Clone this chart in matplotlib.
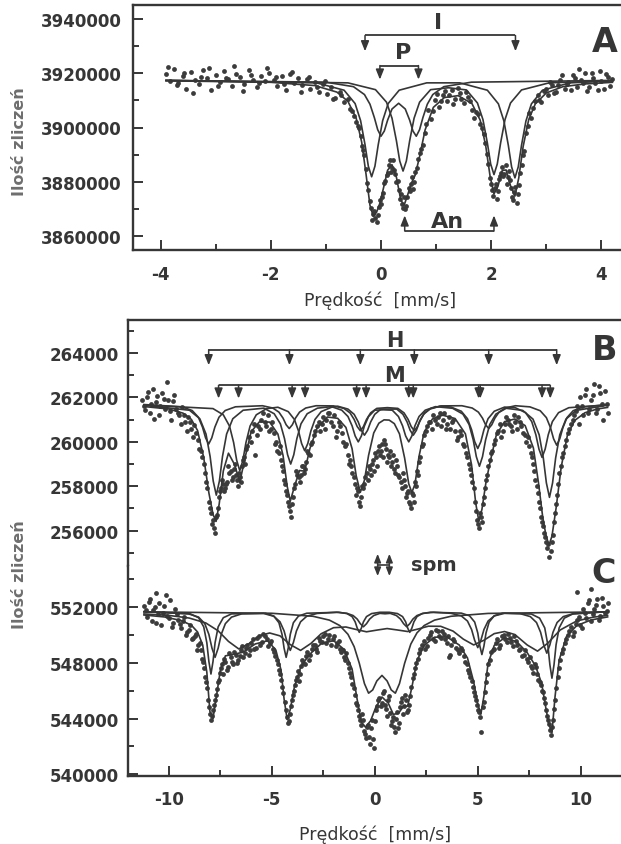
import matplotlib
matplotlib.use("Agg")
import matplotlib.pyplot as plt
from matplotlib.ticker import MultipleLocator, FormatStrFormatter

plt.rcParams["font.family"] = ["DejaVu Sans"]
plt.rcParams["axes.unicode_minus"] = False

INK = "#363636"
DOT = "#3c3c3c"
LABEL_GREY = "#6e6e6e"

# ---------------- panel A : measured points ----------------
a_vel = [
    -3.90, -3.83, -3.75, -3.68, -3.60, -3.53, -3.45, -3.38, -3.30, -3.23,
    -3.15, -3.08, -3.00, -2.93, -2.85, -2.78, -2.70, -2.63, -2.55, -2.48,
    -2.40, -2.33, -2.25, -2.18, -2.10, -2.03, -1.95, -1.88, -1.80, -1.73,
    -1.65, -1.58, -1.50, -1.43, -1.35, -1.28, -1.20, -1.13, -1.05, -0.98,
    -0.90, -0.83, -0.75, -0.68, -0.60, -0.53, -0.45, -0.40, -0.35, -0.30,
    -0.25, -0.20, -0.16, -0.12, -0.08, -0.04, 0.00, 0.04, 0.08, 0.12,
    0.16, 0.20, 0.24, 0.28, 0.32, 0.36, 0.40, 0.44, 0.48, 0.52,
    0.56, 0.60, 0.65, 0.70, 0.76, 0.82, 0.90, 0.98, 1.05, 1.13,
    1.20, 1.28, 1.35, 1.43, 1.50, 1.58, 1.65, 1.72, 1.80, 1.86,
    1.92, 1.98, 2.02, 2.06, 2.10, 2.14, 2.18, 2.22, 2.26, 2.30,
    2.34, 2.38, 2.42, 2.46, 2.50, 2.55, 2.60, 2.66, 2.72, 2.80,
    2.87, 2.95, 3.03, 3.10, 3.18, 3.25, 3.33, 3.40, 3.48, 3.55,
    3.63, 3.70, 3.78, 3.85, 3.93, 4.00, 4.08, 4.15, 4.20,
    # second sweep
    -3.86, -3.71, -3.57, -3.42, -3.27, -3.12, -2.96, -2.81, -2.66, -2.51,
    -2.36, -2.21, -2.06, -1.91, -1.76, -1.61, -1.46, -1.31, -1.16, -1.01,
    -0.87, -0.72, -0.57, -0.49, -0.42, -0.37, -0.32, -0.28, -0.23, -0.18,
    -0.14, -0.10, -0.06, -0.02, 0.02, 0.06, 0.10, 0.14, 0.18, 0.22,
    0.26, 0.30, 0.34, 0.38, 0.42, 0.46, 0.50, 0.54, 0.58, 0.62,
    0.67, 0.73, 0.79, 0.86, 0.94, 1.01, 1.09, 1.16, 1.24, 1.31,
    1.39, 1.46, 1.54, 1.61, 1.69, 1.76, 1.83, 1.89, 1.95, 2.00,
    2.04, 2.08, 2.12, 2.16, 2.20, 2.24, 2.28, 2.32, 2.36, 2.40,
    2.44, 2.48, 2.53, 2.58, 2.63, 2.69, 2.76, 2.84, 2.91, 2.99,
    3.07, 3.14, 3.22, 3.29, 3.37, 3.44, 3.52, 3.59, 3.67, 3.74,
    3.82, 3.89, 3.97, 4.04, 4.12]
a_counts = [
    3919800, 3917000, 3921500, 3916200, 3918900, 3914300, 3920400, 3917600, 3915800, 3921000,
    3918100, 3913900, 3919300, 3916700, 3920600, 3917900, 3915100, 3919700, 3918400, 3916000,
    3921200, 3917300, 3914800, 3919000, 3916900, 3920100, 3917500, 3915400, 3918800, 3913600,
    3919600, 3916400, 3918200, 3915600, 3917900, 3914100, 3916800, 3913200, 3915900, 3912400,
    3914700, 3911000, 3912900, 3909300, 3910500, 3905900, 3902100, 3899800, 3893200, 3889900,
    3879600, 3873000, 3866100, 3869400, 3865200, 3870800, 3872000, 3876100, 3880300, 3883200,
    3887900, 3885000, 3884500, 3879800, 3877200, 3875600, 3870400, 3869900, 3874300, 3876500,
    3882000, 3880100, 3885100, 3890800, 3893600, 3901300, 3903200, 3910000, 3907400, 3911800,
    3909900, 3913600, 3910600, 3912700, 3908900, 3911200, 3906400, 3905800, 3901200, 3897600,
    3890100, 3881500, 3876900, 3877800, 3873600, 3880900, 3883400, 3882100, 3886200, 3881900,
    3880700, 3874500, 3876300, 3872400, 3878900, 3886400, 3891200, 3900500, 3903600, 3909700,
    3910100, 3913500, 3911900, 3915600, 3913200, 3917400, 3914300, 3916800, 3919300, 3914900,
    3917600, 3920200, 3915000, 3918300, 3913700, 3917100, 3919600, 3915400, 3917900,
    # second sweep
    3922300, 3915700, 3919900, 3912800, 3918500, 3921900, 3915200, 3918200, 3922500, 3913300,
    3919200, 3916400, 3922000, 3918600, 3915900, 3920300, 3913000, 3918400, 3914900, 3917100,
    3910600, 3911800, 3906900, 3904300, 3900500, 3896700, 3891600, 3884900, 3877200, 3870600,
    3868300, 3866900, 3867800, 3873400, 3874600, 3879500, 3882400, 3886100, 3883600, 3888200,
    3882900, 3880300, 3873900, 3871800, 3874600, 3871200, 3877800, 3879200, 3877500, 3883700,
    3888400, 3892100, 3898000, 3906400, 3906100, 3912300, 3909600, 3913300, 3912000, 3908800,
    3914400, 3910300, 3912900, 3909800, 3903600, 3904800, 3899700, 3894200, 3886700, 3879300,
    3874800, 3879100, 3876500, 3882200, 3885600, 3883000, 3879400, 3884200, 3877700, 3873300,
    3878000, 3875600, 3883300, 3889900, 3897800, 3905200, 3907000, 3911900, 3909400, 3914100,
    3916600, 3912600, 3915500, 3919400, 3916000, 3913600, 3918200, 3921400, 3916500, 3913400,
    3919900, 3916300, 3920800, 3914200, 3918700]

# panel A : fitted sub-spectra and their sum
a_I_vel = [-3.9, -1.17, -0.67, -0.47, -0.37, -0.29, -0.23, -0.17, -0.11, -0.05, 0.03, 0.13, 0.33, 0.83,
           1.43, 1.93, 2.13, 2.23, 2.31, 2.37, 2.43, 2.49, 2.55, 2.63, 2.73, 2.93, 3.43, 4.2]
a_I_fit = [3917300, 3916400, 3913700, 3908800, 3902500, 3893700, 3885800, 3881900, 3885800, 3893700,
           3902500, 3908800, 3913700, 3916400, 3916400, 3913700, 3908700, 3902400, 3893500, 3885500,
           3881500, 3885500, 3893500, 3902400, 3908700, 3913700, 3916400, 3917100]
a_P_vel = [-3.9, -1.0, -0.5, -0.3, -0.2, -0.12, -0.06, 0.0, 0.06, 0.12, 0.2, 0.32, 0.44, 0.52, 0.58,
           0.64, 0.70, 0.76, 0.84, 0.94, 1.14, 1.64, 4.2]
a_P_fit = [3917300, 3916650, 3915000, 3912100, 3908550, 3903600, 3899200, 3896800, 3898700, 3902700,
           3906800, 3908900, 3906800, 3902700, 3898700, 3896800, 3899200, 3903600, 3908550, 3912100,
           3915000, 3916650, 3917300]
a_An_vel = [-3.9, -0.6, -0.1, 0.1, 0.2, 0.28, 0.34, 0.40, 0.46, 0.52, 0.60, 0.70, 0.90, 1.225, 1.55,
            1.75, 1.85, 1.93, 1.99, 2.05, 2.11, 2.17, 2.25, 2.35, 2.55, 3.05, 4.2]
a_An_fit = [3917300, 3916400, 3913900, 3909300, 3903400, 3895100, 3887700, 3884000, 3887700, 3895100,
            3903400, 3909300, 3913900, 3914600, 3913800, 3909000, 3902900, 3894300, 3886600, 3882700,
            3886600, 3894300, 3902900, 3909000, 3913800, 3916400, 3917200]
a_sum_vel = [-3.9, -2.0, -1.2, -0.8, -0.6, -0.45, -0.35, -0.27, -0.2, -0.14, -0.08, -0.02, 0.05, 0.12,
             0.2, 0.28, 0.36, 0.42, 0.48, 0.55, 0.62, 0.7, 0.8, 0.95, 1.15, 1.4, 1.65, 1.8, 1.9, 1.98,
             2.05, 2.12, 2.2, 2.27, 2.35, 2.43, 2.5, 2.58, 2.68, 2.8, 3.0, 3.3, 3.7, 4.2]
a_sum_fit = [3917160, 3916600, 3915400, 3913000, 3909600, 3903400, 3894600, 3882600, 3871400, 3867400,
             3868900, 3872200, 3878200, 3884300, 3886300, 3881700, 3873300, 3871500, 3875000, 3879500,
             3882500, 3889300, 3899100, 3907400, 3911000, 3911700, 3908800, 3902700, 3893300, 3882000,
             3875600, 3878300, 3884200, 3884400, 3878600, 3874800, 3881500, 3893100, 3902900, 3908700,
             3912700, 3915000, 3916000, 3916600]

# line positions marked by the brackets
a_I_lines = [-0.29, 2.44]
a_P_lines = [-0.02, 0.68]
a_An_lines = [0.43, 2.05]

# ---------------- panel B ----------------
b_vel = [
    -11.30, -11.15, -11.00, -10.85, -10.70, -10.55, -10.40, -10.25, -10.10, -9.95,
    -9.80, -9.65, -9.50, -9.35, -9.20, -9.05, -8.90, -8.75, -8.60, -8.45,
    -8.30, -8.18, -8.06, -7.95, -7.85, -7.75, -7.65, -7.55, -7.45, -7.35,
    -7.25, -7.15, -7.05, -6.95, -6.85, -6.75, -6.65, -6.55, -6.45, -6.35,
    -6.25, -6.10, -5.95, -5.80, -5.65, -5.50, -5.35, -5.20, -5.05, -4.90,
    -4.78, -4.66, -4.55, -4.45, -4.35, -4.25, -4.15, -4.05, -3.95, -3.85,
    -3.75, -3.65, -3.55, -3.45, -3.35, -3.22, -3.10, -2.95, -2.80, -2.65,
    -2.50, -2.35, -2.20, -2.05, -1.90, -1.75, -1.60, -1.45, -1.32, -1.20,
    -1.08, -0.96, -0.85, -0.75, -0.65, -0.55, -0.45, -0.35, -0.25, -0.15,
    -0.05, 0.05, 0.15, 0.25, 0.35, 0.45, 0.55, 0.65, 0.75, 0.85,
    0.95, 1.05, 1.15, 1.25, 1.35, 1.45, 1.55, 1.65, 1.75, 1.85,
    1.95, 2.05, 2.15, 2.28, 2.40, 2.55, 2.70, 2.85, 3.00, 3.15,
    3.30, 3.45, 3.60, 3.75, 3.90, 4.05, 4.20, 4.35, 4.50, 4.62,
    4.74, 4.86, 4.96, 5.06, 5.16, 5.26, 5.36, 5.46, 5.58, 5.70,
    5.85, 6.00, 6.15, 6.30, 6.45, 6.60, 6.75, 6.90, 7.05, 7.20,
    7.35, 7.50, 7.62, 7.74, 7.86, 7.98, 8.08, 8.18, 8.28, 8.38,
    8.48, 8.58, 8.68, 8.78, 8.90, 9.02, 9.15, 9.30, 9.45, 9.60,
    9.75, 9.90, 10.05, 10.20, 10.35, 10.50, 10.65, 10.80, 10.95, 11.10,
    11.25,
    # second sweep
    -11.22, -11.07, -10.92, -10.77, -10.62, -10.47, -10.32, -10.17, -10.02, -9.87,
    -9.72, -9.57, -9.42, -9.27, -9.12, -8.97, -8.82, -8.67, -8.52, -8.38,
    -8.24, -8.12, -8.00, -7.90, -7.80, -7.70, -7.60, -7.50, -7.40, -7.30,
    -7.20, -7.10, -7.00, -6.90, -6.80, -6.70, -6.60, -6.50, -6.40, -6.30,
    -6.18, -6.03, -5.88, -5.72, -5.57, -5.42, -5.27, -5.12, -4.97, -4.84,
    -4.72, -4.60, -4.50, -4.40, -4.30, -4.20, -4.10, -4.00, -3.90, -3.80,
    -3.70, -3.60, -3.50, -3.40, -3.28, -3.16, -3.03, -2.88, -2.72, -2.57,
    -2.42, -2.27, -2.12, -1.97, -1.82, -1.67, -1.52, -1.38, -1.26, -1.14,
    -1.02, -0.90, -0.80, -0.70, -0.60, -0.50, -0.40, -0.30, -0.20, -0.10,
    0.00, 0.10, 0.20, 0.30, 0.40, 0.50, 0.60, 0.70, 0.80, 0.90,
    1.00, 1.10, 1.20, 1.30, 1.40, 1.50, 1.60, 1.70, 1.80, 1.90,
    2.00, 2.10, 2.22, 2.34, 2.47, 2.62, 2.77, 2.92, 3.07, 3.22,
    3.37, 3.52, 3.67, 3.82, 3.97, 4.12, 4.27, 4.42, 4.56, 4.68,
    4.80, 4.91, 5.01, 5.11, 5.21, 5.31, 5.41, 5.52, 5.64, 5.77,
    5.92, 6.07, 6.22, 6.37, 6.52, 6.67, 6.82, 6.97, 7.12, 7.27,
    7.42, 7.56, 7.68, 7.80, 7.92, 8.03, 8.13, 8.23, 8.33, 8.43,
    8.53, 8.63, 8.73, 8.84, 8.96, 9.08, 9.22, 9.37, 9.52, 9.67,
    9.82, 9.97, 10.12, 10.27, 10.42, 10.57, 10.72, 10.87, 11.02, 11.17,
    11.30]
b_counts = [
    261900, 261450, 262250, 261700, 261050, 262050, 261600, 261950, 262700, 261400,
    261850, 261500, 261200, 261550, 260900, 261100, 260600, 260750, 260100, 259600,
    259000, 258200, 257300, 256800, 256500, 255900, 256700, 257500, 257900, 258100,
    257900, 258200, 258600, 258300, 258800, 258500, 258000, 258400, 258900, 259300,
    259700, 260200, 260500, 259400, 260700, 261000, 260900, 261200, 260600, 260400,
    260000, 259500, 259200, 258700, 258100, 257600, 257100, 256600, 257500, 258100,
    258500, 258200, 258900, 258600, 259100, 259500, 259900, 260300, 260700, 260500,
    261100, 261000, 261300, 260700, 260200, 260900, 260400, 259800, 259400, 259200,
    258600, 258100, 257900, 257300, 257500, 257900, 258400, 258300, 258800, 259000,
    258700, 259300, 259600, 259400, 259900, 260100, 259700, 259400, 259600, 259100,
    258800, 259200, 258500, 258200, 258600, 258000, 257700, 257300, 257000, 257600,
    258200, 258700, 259100, 259800, 260300, 260700, 260900, 261200, 260800, 261300,
    261000, 260600, 261100, 260900, 260500, 260200, 260300, 259800, 259300, 258800,
    258200, 257300, 256500, 256100, 256600, 257200, 257900, 258500, 259200, 259600,
    260100, 260500, 260200, 260800, 261000, 260700, 261200, 260600, 260900, 260400,
    260000, 259800, 259300, 258700, 258000, 257300, 256600, 256200, 255700, 255200,
    254800, 255500, 256400, 257200, 258100, 258900, 259500, 260100, 260600, 261000,
    261400, 260800, 261600, 262100, 261300, 261900, 262600, 261500, 262200, 261000,
    261700,
    # second sweep
    261600, 262000, 261300, 262400, 261800, 261200, 262200, 261500, 261900, 261000,
    262100, 261300, 260800, 261200, 260500, 260900, 260200, 260400, 259700, 259300,
    258600, 257900, 257000, 256300, 256100, 256600, 257000, 257800, 258300, 257800,
    258100, 258900, 258700, 258400, 259000, 258300, 258600, 258200, 259200, 259000,
    259800, 260000, 260800, 260300, 260600, 261300, 260700, 260500, 260900, 259900,
    259600, 259800, 258900, 258300, 257800, 257300, 256900, 257200, 257900, 258700,
    258400, 258500, 258900, 258800, 259600, 259400, 260000, 260500, 260900, 260800,
    260600, 261300, 260900, 261200, 260500, 260700, 260000, 259900, 259000, 258900,
    258400, 257600, 257800, 257100, 258000, 258100, 258600, 258900, 258500, 259200,
    259500, 258900, 259800, 259600, 259300, 259900, 259100, 259300, 258900, 259400,
    258600, 258900, 258400, 257900, 258300, 257500, 257800, 257200, 257700, 257300,
    258000, 258500, 259300, 259900, 260500, 260900, 260600, 261000, 261100, 260700,
    261300, 260800, 260600, 261000, 260100, 260500, 259900, 259500, 259000, 258500,
    257900, 256900, 256300, 256800, 256400, 257500, 258300, 258900, 259500, 259900,
    260400, 260800, 260500, 261100, 260800, 260500, 260900, 261100, 260700, 260300,
    260200, 259500, 259000, 258300, 257700, 257000, 256400, 255900, 255500, 255400,
    255100, 255800, 256800, 257600, 258600, 259300, 259800, 260400, 260800, 261200,
    261600, 262000, 261200, 262400, 261500, 262100, 261300, 262500, 261700, 262300,
    261300]

b_H_vel = [-11.2, -9.36, -8.86, -8.56, -8.36, -8.21, -8.06, -7.91, -7.76, -7.56, -7.26, -6.76,
           -5.45, -4.95, -4.65, -4.45, -4.30, -4.15, -4.00, -3.85, -3.65, -3.35, -2.85,
           -2.0, -1.5, -1.2, -1.0, -0.85, -0.70, -0.55, -0.40, -0.20, 0.10, 0.61,
           1.12, 1.42, 1.62, 1.77, 1.92, 2.07, 2.22, 2.42, 2.72, 3.22,
           4.23, 4.73, 5.03, 5.23, 5.38, 5.53, 5.68, 5.83, 6.03, 6.33, 6.83,
           7.53, 8.03, 8.33, 8.53, 8.68, 8.83, 8.98, 9.13, 9.33, 9.63, 10.13, 11.3]
b_H_fit = [261680, 261578, 261410, 261108, 260663, 260179, 259900, 260179, 260663, 261108, 261410, 261578,
           261626, 261523, 261338, 261066, 260770, 260600, 260770, 261066, 261338, 261523, 261626,
           261619, 261507, 261305, 261009, 260686, 260500, 260686, 261009, 261305, 261507, 261540,
           261507, 261305, 261009, 260686, 260500, 260686, 261009, 261305, 261507, 261619,
           261626, 261523, 261338, 261066, 260770, 260600, 260770, 261066, 261338, 261523, 261626,
           261575, 261402, 261091, 260634, 260137, 259850, 260137, 260634, 261091, 261402, 261575, 261680]
b_M1_vel = [-11.2, -8.99, -8.49, -8.19, -7.99, -7.84, -7.69, -7.54, -7.39, -7.19, -6.89, -6.39,
            -5.38, -4.88, -4.58, -4.38, -4.23, -4.08, -3.93, -3.78, -3.58, -3.28, -2.78,
            -2.1, -1.6, -1.3, -1.1, -0.95, -0.80, -0.65, -0.50, -0.30, 0.0, 0.425,
            0.85, 1.15, 1.35, 1.50, 1.65, 1.80, 1.95, 2.15, 2.45, 2.95,
            3.78, 4.28, 4.58, 4.78, 4.93, 5.08, 5.23, 5.38, 5.58, 5.88, 6.38,
            7.18, 7.68, 7.98, 8.18, 8.33, 8.48, 8.63, 8.78, 8.98, 9.28, 9.78, 11.3]
b_M1_fit = [261650, 261423, 261040, 260351, 259338, 258235, 257600, 258235, 259338, 260351, 261040, 261423,
            261517, 261265, 260812, 260145, 259418, 259000, 259418, 260145, 260812, 261265, 261517,
            261585, 261426, 261141, 260721, 260263, 260000, 260263, 260721, 261141, 261426, 261443,
            261426, 261141, 260721, 260263, 260000, 260263, 260721, 261141, 261426, 261585,
            261511, 261249, 260779, 260087, 259334, 258900, 259334, 260087, 260779, 261249, 261511,
            261416, 261024, 260318, 259281, 258151, 257500, 258151, 259281, 260318, 261024, 261416, 261650]
b_M2_vel = [-11.2, -7.85, -7.35, -7.05, -6.85, -6.70, -6.55, -6.40, -6.25, -6.05, -5.75, -5.25,
            -4.70, -4.20, -3.90, -3.70, -3.55, -3.40, -3.25, -3.10, -2.90, -2.60, -2.10,
            -1.80, -1.30, -1.00, -0.80, -0.65, -0.50, -0.35, -0.20, 0.0, 0.30, 0.685,
            1.07, 1.37, 1.57, 1.72, 1.87, 2.02, 2.17, 2.37, 2.67, 3.17,
            3.70, 4.20, 4.50, 4.70, 4.85, 5.00, 5.15, 5.30, 5.50, 5.80, 6.30,
            6.82, 7.32, 7.62, 7.82, 7.97, 8.12, 8.27, 8.42, 8.62, 8.92, 9.42, 11.3]
b_M2_fit = [261660, 261497, 261217, 260713, 259972, 259165, 258700, 259165, 259972, 260713, 261217, 261497,
            261558, 261362, 261009, 260490, 259925, 259600, 259925, 260490, 261009, 261362, 261558,
            261605, 261475, 261239, 260894, 260517, 260300, 260517, 260894, 261239, 261475, 261476,
            261475, 261239, 260894, 260517, 260300, 260517, 260894, 261239, 261475, 261605,
            261565, 261378, 261042, 260548, 260010, 259700, 260010, 260548, 261042, 261378, 261565,
            261538, 261314, 260910, 260318, 259672, 259300, 259672, 260318, 260910, 261314, 261538, 261660]
b_sum_vel = [-11.2, -10.0, -9.3, -8.9, -8.6, -8.3, -8.05, -7.85, -7.7, -7.55,
             -7.35, -7.1, -6.8, -6.55, -6.3, -6.0, -5.6, -5.1, -4.7, -4.45,
             -4.25, -4.1, -3.9, -3.65, -3.4, -3.15, -2.8, -2.3, -1.8, -1.4,
             -1.1, -0.9, -0.7, -0.5, -0.3, -0.05, 0.2, 0.45, 0.7, 0.95,
             1.2, 1.45, 1.65, 1.8, 1.95, 2.15, 2.4, 2.8, 3.3, 3.9,
             4.4, 4.7, 4.9, 5.05, 5.2, 5.4, 5.6, 5.9, 6.3, 6.8,
             7.3, 7.7, 7.95, 8.15, 8.3, 8.45, 8.6, 8.8, 9.05, 9.35,
             9.7, 10.2, 10.8, 11.3]
b_sum_fit = [261590, 261480, 261290, 261010, 260510, 259290, 257700, 256730, 256420, 257200,
             258690, 259490, 258970, 258180, 259270, 260455, 260900, 260890, 260350, 259380,
             258000, 257330, 257980, 258710, 258680, 259690, 260620, 261120, 261060, 260650,
             259690, 258470, 257730, 258270, 259390, 260400, 260840, 260990, 260980, 260820,
             260360, 259270, 258110, 257720, 258090, 259350, 260450, 261030, 261200, 261050,
             260360, 258960, 257240, 256440, 256950, 258190, 259100, 260310, 260910, 261030,
             260730, 259720, 258130, 256620, 255840, 255340, 255750, 257010, 258870, 260300,
             260960, 261310, 261480, 261550]

b_H_lines = [-8.06, -4.14, -0.70, 1.92, 5.53, 8.83]
b_M_lines = [-7.58, -6.61, -4.01, -3.38, -0.88, -0.42, 1.65, 1.87, 5.04, 5.12, 8.12, 8.52]
spm_lines = [0.14, 0.71]

# ---------------- panel C ----------------
c_vel = [
    -11.20, -11.05, -10.90, -10.75, -10.60, -10.45, -10.30, -10.15, -10.00, -9.85,
    -9.70, -9.55, -9.40, -9.25, -9.10, -8.95, -8.80, -8.68, -8.56, -8.45,
    -8.35, -8.25, -8.15, -8.05, -7.95, -7.85, -7.75, -7.65, -7.55, -7.45,
    -7.35, -7.25, -7.12, -7.00, -6.88, -6.75, -6.62, -6.50, -6.38, -6.25,
    -6.12, -6.00, -5.85, -5.70, -5.55, -5.40, -5.25, -5.10, -4.95, -4.82,
    -4.70, -4.58, -4.48, -4.38, -4.28, -4.18, -4.08, -3.98, -3.88, -3.78,
    -3.68, -3.58, -3.46, -3.34, -3.20, -3.06, -2.92, -2.78, -2.64, -2.50,
    -2.35, -2.20, -2.05, -1.90, -1.75, -1.62, -1.50, -1.38, -1.26, -1.14,
    -1.02, -0.92, -0.82, -0.72, -0.62, -0.52, -0.42, -0.32, -0.22, -0.12,
    -0.02, 0.08, 0.18, 0.28, 0.38, 0.48, 0.58, 0.68, 0.78, 0.88,
    0.98, 1.08, 1.18, 1.28, 1.38, 1.48, 1.58, 1.68, 1.78, 1.90,
    2.02, 2.15, 2.30, 2.45, 2.60, 2.75, 2.90, 3.05, 3.20, 3.35,
    3.50, 3.65, 3.80, 3.95, 4.10, 4.25, 4.40, 4.52, 4.64, 4.76,
    4.88, 4.98, 5.08, 5.18, 5.28, 5.40, 5.52, 5.65, 5.80, 5.95,
    6.10, 6.25, 6.40, 6.55, 6.70, 6.85, 7.00, 7.15, 7.30, 7.45,
    7.58, 7.70, 7.82, 7.94, 8.06, 8.16, 8.26, 8.36, 8.46, 8.56,
    8.66, 8.76, 8.88, 9.00, 9.15, 9.30, 9.45, 9.60, 9.75, 9.90,
    10.05, 10.20, 10.35, 10.50, 10.65, 10.80, 10.95, 11.10, 11.25, 9.82,
    10.48, -10.62,
    # second sweep
    -11.12, -10.97, -10.82, -10.67, -10.52, -10.37, -10.22, -10.07, -9.92, -9.77,
    -9.62, -9.47, -9.32, -9.17, -9.02, -8.87, -8.74, -8.62, -8.50, -8.40,
    -8.30, -8.20, -8.10, -8.00, -7.90, -7.80, -7.70, -7.60, -7.50, -7.40,
    -7.30, -7.18, -7.06, -6.94, -6.82, -6.68, -6.56, -6.44, -6.31, -6.18,
    -6.06, -5.92, -5.78, -5.62, -5.48, -5.32, -5.18, -5.02, -4.88, -4.76,
    -4.64, -4.53, -4.43, -4.33, -4.23, -4.13, -4.03, -3.93, -3.83, -3.73,
    -3.63, -3.52, -3.40, -3.27, -3.13, -2.99, -2.85, -2.71, -2.57, -2.42,
    -2.27, -2.12, -1.97, -1.82, -1.68, -1.56, -1.44, -1.32, -1.20, -1.08,
    -0.97, -0.87, -0.77, -0.67, -0.57, -0.47, -0.37, -0.27, -0.17, -0.07,
    0.03, 0.13, 0.23, 0.33, 0.43, 0.53, 0.63, 0.73, 0.83, 0.93,
    1.03, 1.13, 1.23, 1.33, 1.43, 1.53, 1.63, 1.73, 1.84, 1.96,
    2.08, 2.22, 2.37, 2.52, 2.67, 2.82, 2.97, 3.12, 3.27, 3.42,
    3.57, 3.72, 3.87, 4.02, 4.17, 4.32, 4.46, 4.58, 4.70, 4.82,
    4.93, 5.03, 5.13, 5.23, 5.34, 5.46, 5.58, 5.72, 5.87, 6.02,
    6.17, 6.32, 6.47, 6.62, 6.77, 6.92, 7.07, 7.22, 7.37, 7.52,
    7.64, 7.76, 7.88, 8.00, 8.11, 8.21, 8.31, 8.41, 8.51, 8.61,
    8.71, 8.82, 8.94, 9.07, 9.22, 9.37, 9.52, 9.67, 9.82, 9.97,
    10.12, 10.27, 10.42, 10.57, 10.72, 10.87, 11.02, 11.17, 11.30, 3.60]
c_counts = [
    552100, 551300, 552600, 551800, 550900, 552300, 551600, 552900, 551200, 550600,
    551900, 551100, 550500, 551300, 550200, 550700, 549800, 550100, 549300, 548900,
    548100, 547000, 546200, 544800, 543900, 544600, 545300, 546100, 546800, 547600,
    547200, 548100, 547700, 548400, 547900, 548600, 548200, 548900, 548400, 549100,
    548600, 549400, 549000, 549800, 549300, 550100, 549700, 549400, 549000, 548500,
    547900, 547200, 546300, 545200, 544100, 543800, 544900, 545700, 546400, 547000,
    546700, 547800, 548000, 548500, 548200, 549000, 549300, 548800, 549600, 549900,
    549400, 550000, 549700, 549200, 549600, 548800, 548400, 548700, 547600, 547000,
    546200, 545100, 544600, 543900, 544300, 543100, 542600, 543500, 542200, 543900,
    541900, 544600, 545300, 544900, 545800, 545000, 544200, 545600, 543500, 544100,
    543000, 544500, 543700, 545200, 544300, 545700, 544500, 545000, 546300, 547200,
    548000, 548700, 549300, 549000, 549800, 550200, 549600, 550300, 549800, 550100,
    549400, 548600, 549700, 549100, 548700, 548900, 548100, 547500, 547000, 546300,
    545600, 545000, 544500, 543000, 545200, 546600, 547900, 548800, 549000, 549700,
    549300, 550000, 549500, 549800, 549200, 549600, 548900, 548500, 548900, 548100,
    547800, 547300, 547700, 546800, 546400, 545900, 545100, 544200, 543600, 542800,
    543900, 545300, 547000, 548200, 549000, 549700, 550300, 549900, 550800, 551300,
    550500, 551600, 552300, 551000, 551900, 552600, 551400, 552100, 551700, 553100,
    553300, 553000,
    # second sweep
    551800, 552400, 551000, 552000, 551500, 550700, 552100, 551400, 552500, 550900,
    551500, 550800, 551000, 550000, 550400, 549700, 549900, 548900, 549400, 548300,
    547600, 546600, 545300, 544300, 544200, 545000, 545700, 546600, 547300, 547900,
    548300, 547500, 548700, 548100, 548800, 548000, 548500, 549200, 548700, 549300,
    548900, 549700, 549100, 549900, 549500, 549900, 549200, 549600, 548800, 548200,
    547500, 546800, 545800, 544600, 543700, 544300, 545300, 546000, 546800, 547400,
    547200, 548200, 547900, 548800, 548600, 549300, 549000, 549800, 549500, 550100,
    549700, 549300, 549900, 549400, 549000, 548900, 548200, 548000, 547300, 546500,
    545700, 545000, 544200, 543500, 543900, 542900, 543400, 542700, 543300, 542500,
    543800, 544900, 545500, 545100, 546000, 544700, 545300, 544400, 543800, 543400,
    544000, 543300, 544800, 545500, 544900, 545300, 544600, 545600, 546900, 547600,
    548300, 549000, 549600, 549200, 550000, 549700, 550400, 549900, 550300, 549700,
    549900, 549300, 549600, 548900, 549100, 548500, 547900, 547300, 546700, 545900,
    545300, 544600, 544100, 544800, 545900, 547200, 548200, 548900, 549400, 549100,
    549900, 549700, 550100, 549500, 549900, 549300, 549000, 548600, 548300, 548400,
    547600, 547900, 547200, 546600, 546000, 545500, 544600, 543900, 543200, 543400,
    544700, 546200, 547600, 548700, 549400, 550000, 550600, 550200, 551100, 550700,
    551900, 551200, 552500, 551500, 552200, 551100, 552700, 551600, 552300, 548400]

c_H_vel = [-11.2, -8.95, -8.55, -8.30, -8.15, -8.05, -7.95, -7.85, -7.75, -7.60, -7.35, -6.95,
           -5.3, -4.9, -4.65, -4.5, -4.4, -4.3, -4.2, -4.1, -3.95, -3.7, -3.3,
           -1.75, -1.35, -1.10, -0.95, -0.85, -0.75, -0.65, -0.55, -0.40, -0.15, 0.25,
           0.70, 1.10, 1.35, 1.50, 1.60, 1.70, 1.80, 1.90, 2.05, 2.30, 2.70,
           4.2, 4.6, 4.85, 5.0, 5.1, 5.2, 5.3, 5.4, 5.55, 5.8, 6.2,
           7.6, 8.0, 8.25, 8.4, 8.5, 8.6, 8.7, 8.8, 8.95, 9.2, 9.6, 11.3]
c_H_fit = [551690, 551527, 551250, 550593, 549450, 548100, 547200, 548100, 549450, 550593, 551250, 551527,
           551573, 551370, 550888, 550050, 549060, 548400, 549060, 550050, 550888, 551370, 551573,
           551642, 551550, 551331, 550950, 550500, 550200, 550500, 550950, 551331, 551550, 551642,
           551642, 551550, 551331, 550950, 550500, 550200, 550500, 550950, 551331, 551550, 551642,
           551581, 551390, 550937, 550150, 549220, 548600, 549220, 550150, 550937, 551390, 551581,
           551515, 551220, 550519, 549300, 547860, 546900, 547860, 549300, 550519, 551220, 551515, 551690]
c_M_vel = [-11.2, -9.05, -8.55, -8.25, -8.05, -7.9, -7.75, -7.6, -7.45, -7.25, -6.95, -6.45,
           -5.4, -4.9, -4.6, -4.4, -4.25, -4.1, -3.95, -3.8, -3.6, -3.3, -2.8,
           -1.85, -1.35, -1.05, -0.85, -0.70, -0.55, -0.40, -0.25, -0.05, 0.25, 0.5,
           0.75, 1.05, 1.25, 1.40, 1.55, 1.70, 1.85, 2.05, 2.35, 2.85,
           3.7, 4.2, 4.5, 4.7, 4.85, 5.0, 5.15, 5.3, 5.5, 5.8, 6.3,
           7.05, 7.55, 7.85, 8.05, 8.2, 8.35, 8.5, 8.65, 8.85, 9.15, 9.65, 11.3]
c_M_fit = [551680, 551533, 551294, 550825, 550050, 549060, 548400, 549060, 550050, 550825, 551294, 551533,
           551558, 551356, 550958, 550300, 549460, 548900, 549460, 550300, 550958, 551356, 551558,
           551644, 551565, 551408, 551150, 550820, 550600, 550820, 551150, 551408, 551565, 551534,
           551565, 551408, 551150, 550820, 550600, 550820, 551150, 551408, 551565, 551644,
           551568, 551380, 551011, 550400, 549620, 549100, 549620, 550400, 551011, 551380, 551568,
           551548, 551331, 550905, 550200, 549300, 548700, 549300, 550200, 550905, 551331, 551548, 551680]
c_broad_vel = [-11.2, -10.0, -9.0, -8.2, -7.6, -7.1, -6.6, -6.1, -5.6, -5.1,
               -4.6, -4.1, -3.6, -3.1, -2.6, -2.0, -1.4, -0.9, -0.4, 0.1,
               0.6, 1.1, 1.6, 2.1, 2.6, 3.2, 3.8, 4.3, 4.8, 5.3,
               5.8, 6.3, 6.8, 7.4, 7.9, 8.4, 9.0, 9.8, 10.6, 11.3]
c_broad_fit = [551522, 551418, 551225, 550872, 550309, 549547, 549005, 549389, 549955, 550152,
               549945, 549318, 548900, 549398, 550098, 550533, 550583, 550402, 550237, 550359,
               550471, 550368, 550257, 550436, 550640, 550632, 550287, 549708, 549292, 549631,
               550106, 550256, 550040, 549289, 548847, 549420, 550368, 551016, 551290, 551414]
c_spm_vel = [-11.2, -5.0, -3.0, -2.2, -1.7, -1.3, -1.0, -0.75, -0.5, -0.3, -0.1, 0.1, 0.35,
             0.6, 0.8, 1.0, 1.2, 1.45, 1.75, 2.05, 2.4, 2.9, 3.7, 5.5, 11.3]
c_spm_fit = [551673, 551570, 551354, 551077, 550689, 550057, 549169, 547974, 546510, 545822,
             546054, 546700, 547100, 546700, 546054, 545822, 546510, 547974, 549354, 550163,
             550689, 551077, 551354, 551560, 551675]
c_sum_vel = [-11.2, -10.2, -9.4, -8.9, -8.6, -8.35, -8.15, -8.0, -7.85, -7.7,
             -7.5, -7.25, -6.9, -6.4, -5.8, -5.2, -4.8, -4.55, -4.4, -4.25,
             -4.1, -3.9, -3.6, -3.2, -2.6, -2.0, -1.5, -1.1, -0.85, -0.65,
             -0.45, -0.2, 0.05, 0.35, 0.65, 0.9, 1.15, 1.4, 1.6, 1.8,
             2.05, 2.4, 2.9, 3.5, 4.1, 4.5, 4.8, 5.0, 5.15, 5.3,
             5.5, 5.8, 6.3, 6.9, 7.4, 7.8, 8.1, 8.3, 8.45, 8.6,
             8.75, 8.95, 9.3, 9.8, 10.5, 11.3]
c_sum_fit = [551445, 551305, 551050, 550712, 550225, 549290, 547330, 544500, 544010, 545433,
             547415, 548506, 548606, 548764, 549362, 549592, 548926, 547490, 545400, 543934,
             544648, 546272, 547660, 548560, 549385, 549600, 548985, 547559, 545340, 543750,
             543380, 543842, 544798, 545545, 545122, 544300, 544368, 544898, 544892, 546241,
             548163, 549264, 549849, 549871, 549287, 548357, 546642, 545050, 544312, 545631,
             547957, 549261, 549806, 549516, 548731, 547790, 546528, 544794, 543588, 542970,
             545568, 548199, 549885, 550683, 551090, 551307]

# ---------------- figure ----------------
W, H = 621.0, 845.0
fig = plt.figure(figsize=(W / 100, H / 100), dpi=100)
fig.patch.set_facecolor("white")


def box(left, top, right, bottom):
    return [left / W, 1 - bottom / H, (right - left) / W, (bottom - top) / H]


ax_a = fig.add_axes(box(133, 6, 629, 251))
ax_b = fig.add_axes(box(127.5, 320.7, 622, 567))
ax_c = fig.add_axes(box(127.5, 567, 622, 776.7))


def style(ax, ypad):
    for side in ("left", "top", "bottom"):
        ax.spines[side].set_linewidth(1.7)
        ax.spines[side].set_color(INK)
    ax.spines["right"].set_visible(False)
    ax.tick_params(which="both", direction="in", color=INK, width=1.4,
                   labelcolor=INK, labelsize=12, right=False, top=False)
    ax.tick_params(which="major", length=7)
    ax.tick_params(which="minor", length=4)
    ax.tick_params(axis="y", pad=ypad)
    ax.tick_params(axis="x", pad=10.5)
    ax.yaxis.set_major_formatter(FormatStrFormatter("%d"))
    for lab in ax.get_xticklabels() + ax.get_yticklabels():
        lab.set_fontweight("bold")


def draw(ax, vel, counts, curves):
    ax.scatter(vel, counts, s=12, color=DOT, linewidths=0, zorder=2)
    for cv, cf in curves:
        ax.plot(cv, cf, color=INK, lw=1.2, zorder=3)


def bracket(ax, lines, y_bar, y_tip, label, label_x, label_y, size):
    ax.plot([min(lines), max(lines)], [y_bar, y_bar], color=INK, lw=1.3,
            solid_capstyle="butt", clip_on=False)
    for v in lines:
        ax.annotate("", xy=(v, y_tip), xytext=(v, y_bar),
                    arrowprops=dict(arrowstyle="-|>,head_length=0.55,head_width=0.22",
                                    color=INK, lw=1.1, shrinkA=0, shrinkB=0,
                                    mutation_scale=11))
    ax.text(label_x, label_y, label, ha="center", va="center", fontsize=size,
            fontweight="bold", color=INK)


# panel A
draw(ax_a, a_vel, a_counts, [(a_I_vel, a_I_fit), (a_P_vel, a_P_fit),
                             (a_An_vel, a_An_fit), (a_sum_vel, a_sum_fit)])
ax_a.set_xlim(-4.5, 4.5)
ax_a.set_ylim(3855000, 3945000)
ax_a.xaxis.set_major_locator(MultipleLocator(2))
ax_a.xaxis.set_minor_locator(MultipleLocator(1))
ax_a.yaxis.set_major_locator(MultipleLocator(20000))
ax_a.yaxis.set_minor_locator(MultipleLocator(10000))
style(ax_a, 8.4)
bracket(ax_a, a_I_lines, 3933800, 3928000, "I", 1.03, 3938700, 16)
bracket(ax_a, a_P_lines, 3922750, 3917600, "P", 0.41, 3927900, 16)
bracket(ax_a, a_An_lines, 3861950, 3867700, "An", 1.20, 3865600, 16)

# panel B
draw(ax_b, b_vel, b_counts, [(b_H_vel, b_H_fit), (b_M1_vel, b_M1_fit),
                             (b_M2_vel, b_M2_fit), (b_sum_vel, b_sum_fit)])
ax_b.set_xlim(-12, 12)
ax_b.set_ylim(254410, 265500)
ax_b.yaxis.set_major_locator(MultipleLocator(2000))
ax_b.yaxis.set_minor_locator(MultipleLocator(1000))
style(ax_b, 6.3)
ax_b.spines["bottom"].set_visible(False)
ax_b.tick_params(axis="x", which="both", bottom=False, labelbottom=False)
bracket(ax_b, b_H_lines, 264150, 263450, "H", 0.97, 264600, 15)
bracket(ax_b, b_M_lines, 262550, 261950, "M", 0.97, 263000, 15)

# panel C
draw(ax_c, c_vel, c_counts, [(c_H_vel, c_H_fit), (c_M_vel, c_M_fit),
                             (c_broad_vel, c_broad_fit), (c_spm_vel, c_spm_fit),
                             (c_sum_vel, c_sum_fit)])
ax_c.set_xlim(-12, 12)
ax_c.set_ylim(539885, 554971)
ax_c.xaxis.set_major_locator(MultipleLocator(5))
ax_c.xaxis.set_minor_locator(MultipleLocator(2.5))
ax_c.yaxis.set_major_locator(MultipleLocator(4000))
ax_c.yaxis.set_minor_locator(MultipleLocator(2000))
style(ax_c, 6.3)
ax_c.spines["top"].set_visible(False)

# spm marker between B and C
tr = ax_c.get_xaxis_transform()
ax_c.plot(spm_lines, [1.005, 1.005], color=INK, lw=1.2, transform=tr, clip_on=False)
for v in spm_lines:
    ax_c.annotate("", xy=(v, 1.058), xytext=(v, 0.952), xycoords=tr, textcoords=tr,
                  annotation_clip=False,
                  arrowprops=dict(arrowstyle="<|-|>,head_length=0.5,head_width=0.2",
                                  color=INK, lw=1.1, shrinkA=0, shrinkB=0,
                                  mutation_scale=10))
ax_c.text(2.89, 1.005, "spm", transform=tr, ha="center", va="center",
          fontsize=14, fontweight="bold", color=INK)

# panel letters, axis titles
for letter, x, y in (("A", 592, 42), ("B", 592, 351), ("C", 591, 574)):
    fig.text(x / W, 1 - y / H, letter, ha="left", va="center", fontsize=24,
             fontweight="bold", color=INK)

fig.text(380 / W, 1 - 301 / H, "Prędkość  [mm/s]", ha="center", va="center",
         fontsize=12.5, color=INK)
fig.text(375 / W, 1 - 835 / H, "Prędkość  [mm/s]", ha="center", va="center",
         fontsize=12.5, color=INK)
fig.text(20 / W, 1 - 142 / H, "Ilość zliczeń", rotation=90, ha="center", va="center",
         fontsize=11.5, fontweight="bold", color=LABEL_GREY)
fig.text(20 / W, 1 - 575 / H, "Ilość zliczeń", rotation=90, ha="center", va="center",
         fontsize=11.5, fontweight="bold", color=LABEL_GREY)

fig.savefig("out.png", dpi=100)
